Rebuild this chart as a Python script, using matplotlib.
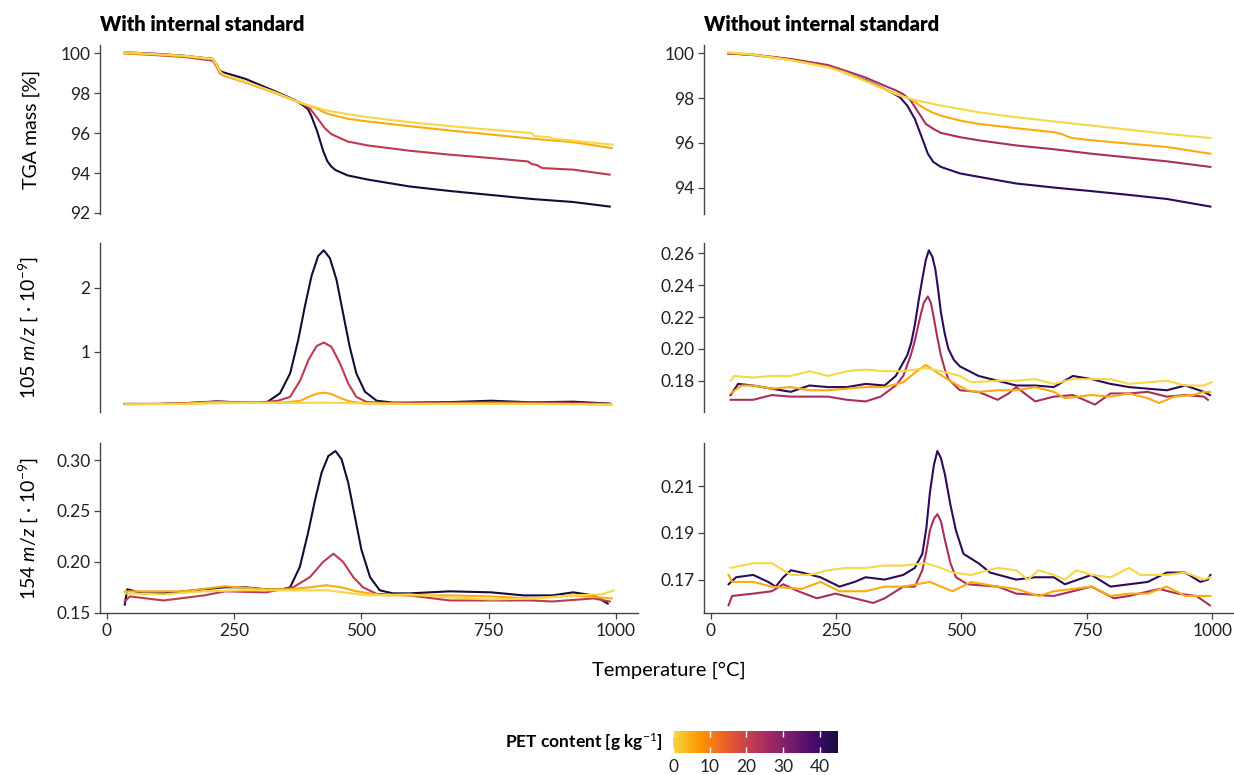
import matplotlib
matplotlib.use("Agg")
import numpy as np
import matplotlib.pyplot as plt
from matplotlib.colors import ListedColormap, Normalize
from matplotlib.colorbar import ColorbarBase
from matplotlib.ticker import FixedLocator, FormatStrFormatter

plt.rcParams['font.family'] = ['Lato', 'DejaVu Sans']
plt.rcParams['mathtext.fontset'] = 'custom'
plt.rcParams['mathtext.rm'] = 'Lato'
plt.rcParams['mathtext.it'] = 'Lato:italic'
plt.rcParams['mathtext.bf'] = 'Lato:bold'

# PET content of the four samples (g/kg), per column
pet_with = [0, 5, 22, 45]
pet_without = [0, 5, 25, 42]

# ---- TGA mass [%], with internal standard ----
tga_with_0 = [(35, 100.05), (100, 99.95), (150, 99.88), (208, 99.72), (215, 99.45), (222, 99.1), (228, 98.95),
              (272, 98.58), (330, 98.05), (385, 97.47), (433, 97.13), (473, 96.95), (513, 96.8), (594, 96.55),
              (674, 96.35), (755, 96.17), (835, 96.0), (840, 95.85), (870, 95.8), (876, 95.72), (916, 95.62),
              (994, 95.42)]
tga_with_1 = [(35, 100.0), (100, 99.93), (150, 99.85), (208, 99.7), (215, 99.4), (222, 99.05), (228, 98.92),
              (272, 98.55), (330, 98.02), (385, 97.47), (410, 97.25), (433, 96.97), (473, 96.72), (513, 96.58),
              (594, 96.35), (674, 96.13), (755, 95.93), (835, 95.72), (916, 95.55), (992, 95.25)]
tga_with_2 = [(35, 100.0), (100, 99.9), (150, 99.82), (208, 99.63), (215, 99.35), (222, 99.0), (228, 98.9),
              (272, 98.55), (330, 98.03), (385, 97.47), (400, 97.2), (415, 96.7), (428, 96.25), (441, 95.95),
              (473, 95.58), (513, 95.38), (594, 95.12), (674, 94.92), (755, 94.75), (827, 94.58), (835, 94.45),
              (845, 94.4), (855, 94.25), (916, 94.17), (988, 93.92)]
tga_with_3 = [(35, 100.05), (100, 99.97), (150, 99.88), (208, 99.72), (215, 99.45), (222, 99.12), (228, 99.05),
              (272, 98.72), (330, 98.1), (370, 97.65), (385, 97.4), (395, 97.2), (401, 96.9), (407, 96.5),
              (413, 96.1), (419, 95.6), (425, 95.1), (433, 94.6), (440, 94.35), (449, 94.15), (473, 93.88),
              (513, 93.67), (594, 93.33), (674, 93.1), (755, 92.9), (835, 92.7), (916, 92.55), (988, 92.32)]

# ---- TGA mass [%], without internal standard ----
tga_wo_0 = [(35, 100.05), (85, 99.95), (160, 99.7), (234, 99.38), (272, 99.1), (309, 98.75), (340, 98.45),
            (369, 98.18), (399, 97.96), (459, 97.67), (534, 97.37), (609, 97.15), (684, 96.96), (759, 96.78),
            (834, 96.59), (909, 96.41), (996, 96.22)]
tga_wo_1 = [(35, 100.02), (85, 99.93), (160, 99.7), (234, 99.4), (272, 99.12), (309, 98.78), (340, 98.47),
            (369, 98.2), (399, 97.96), (422, 97.6), (440, 97.38), (459, 97.22), (497, 97.0), (534, 96.85),
            (609, 96.66), (684, 96.48), (700, 96.4), (710, 96.3), (721, 96.22), (759, 96.12), (834, 95.97),
            (909, 95.82), (996, 95.52)]
tga_wo_2 = [(35, 100.0), (85, 99.95), (160, 99.75), (234, 99.48), (272, 99.2), (309, 98.92), (340, 98.62),
            (369, 98.35), (384, 98.18), (399, 97.89), (414, 97.37), (429, 96.85), (444, 96.63), (459, 96.45),
            (497, 96.26), (534, 96.12), (609, 95.89), (684, 95.72), (759, 95.52), (834, 95.35), (909, 95.18),
            (996, 94.93)]
tga_wo_3 = [(35, 100.0), (85, 99.93), (160, 99.73), (234, 99.45), (272, 99.1), (309, 98.8), (340, 98.48),
            (365, 98.2), (377, 98.05), (392, 97.67), (407, 97.08), (422, 96.19), (433, 95.52), (444, 95.15),
            (459, 94.93), (497, 94.64), (534, 94.49), (609, 94.19), (684, 94.01), (759, 93.85), (834, 93.68),
            (909, 93.5), (996, 93.16)]

# ---- 105 m/z, with internal standard ----
mz105_with_0 = [(35, 0.18), (100, 0.185), (151, 0.19), (216, 0.2), (272, 0.205), (350, 0.205), (427, 0.21),
                (500, 0.2), (594, 0.19), (755, 0.19), (900, 0.185), (992, 0.18)]
mz105_with_1 = [(35, 0.185), (100, 0.19), (151, 0.195), (216, 0.22), (272, 0.21), (320, 0.21), (350, 0.215),
                (380, 0.24), (399, 0.31), (413, 0.35), (426, 0.365), (439, 0.35), (451, 0.31), (464, 0.265),
                (477, 0.23), (503, 0.2), (594, 0.19), (755, 0.2), (900, 0.19), (992, 0.18)]
mz105_with_2 = [(35, 0.19), (100, 0.19), (151, 0.2), (216, 0.225), (272, 0.21), (304, 0.215), (336, 0.24),
                (360, 0.3), (380, 0.56), (396, 0.875), (412, 1.09), (426, 1.145), (441, 1.08), (458, 0.82),
                (474, 0.51), (490, 0.3), (510, 0.22), (553, 0.205), (650, 0.21), (755, 0.215), (900, 0.21),
                (988, 0.19)]
mz105_with_3 = [(35, 0.19), (100, 0.19), (151, 0.2), (216, 0.23), (272, 0.21), (300, 0.205), (314, 0.215),
                (340, 0.355), (360, 0.667), (376, 1.19), (389, 1.71), (402, 2.18), (415, 2.49), (426, 2.58),
                (438, 2.46), (451, 2.125), (464, 1.6), (477, 1.08), (490, 0.667), (507, 0.38), (530, 0.24),
                (562, 0.21), (594, 0.21), (680, 0.22), (755, 0.24), (835, 0.215), (916, 0.225), (988, 0.195)]

# ---- 105 m/z, without internal standard ----
mz105_wo_0 = [(40, 0.18), (47, 0.183), (85, 0.182), (122, 0.183), (160, 0.183), (197, 0.186), (234, 0.183),
              (272, 0.186), (309, 0.187), (347, 0.186), (384, 0.186), (429, 0.188), (459, 0.186), (497, 0.183),
              (519, 0.179), (572, 0.18), (609, 0.18), (647, 0.181), (684, 0.178), (722, 0.181), (759, 0.181),
              (797, 0.181), (834, 0.178), (871, 0.179), (909, 0.18), (946, 0.177), (983, 0.177), (998, 0.179)]
mz105_wo_1 = [(40, 0.172), (62, 0.177), (85, 0.177), (122, 0.175), (160, 0.176), (197, 0.174), (234, 0.174),
              (272, 0.175), (309, 0.176), (347, 0.176), (384, 0.179), (407, 0.185), (429, 0.19), (452, 0.185),
              (482, 0.179), (512, 0.174), (534, 0.173), (572, 0.174), (609, 0.174), (647, 0.176), (684, 0.173),
              (706, 0.169), (759, 0.171), (797, 0.17), (834, 0.172), (871, 0.169), (894, 0.166), (924, 0.17),
              (961, 0.171), (983, 0.173), (995, 0.173)]
mz105_wo_2 = [(40, 0.168), (85, 0.168), (122, 0.171), (160, 0.17), (197, 0.17), (234, 0.17), (272, 0.168),
              (309, 0.167), (339, 0.17), (369, 0.177), (384, 0.183), (399, 0.196), (407, 0.205), (414, 0.215),
              (420, 0.223), (425, 0.229), (433, 0.233), (439, 0.229), (444, 0.221), (452, 0.207), (459, 0.196),
              (467, 0.187), (474, 0.181), (497, 0.174), (534, 0.173), (572, 0.168), (594, 0.172), (609, 0.176),
              (647, 0.167), (684, 0.17), (722, 0.171), (766, 0.165), (797, 0.172), (834, 0.172), (871, 0.173),
              (909, 0.17), (946, 0.171), (983, 0.17), (991, 0.168)]
mz105_wo_3 = [(40, 0.171), (55, 0.178), (85, 0.177), (122, 0.175), (160, 0.173), (197, 0.177), (234, 0.176),
              (272, 0.176), (309, 0.178), (347, 0.177), (369, 0.183), (392, 0.196), (400, 0.204), (407, 0.215),
              (415, 0.231), (422, 0.244), (429, 0.256), (435, 0.262), (442, 0.258), (448, 0.25), (454, 0.236),
              (459, 0.223), (467, 0.209), (474, 0.2), (485, 0.193), (497, 0.189), (534, 0.183), (572, 0.18),
              (609, 0.177), (647, 0.177), (684, 0.176), (722, 0.183), (759, 0.181), (797, 0.178), (834, 0.176),
              (871, 0.175), (909, 0.174), (946, 0.177), (983, 0.173), (995, 0.171)]

# ---- 154 m/z, with internal standard ----
mz154_with_0 = [(35, 0.169), (111, 0.168), (191, 0.171), (272, 0.172), (433, 0.172), (480, 0.169), (513, 0.167),
                (594, 0.168), (674, 0.165), (755, 0.163), (835, 0.164), (916, 0.167), (972, 0.168), (996, 0.172)]
mz154_with_1 = [(35, 0.171), (71, 0.171), (151, 0.171), (232, 0.176), (312, 0.173), (360, 0.173), (400, 0.175),
                (431, 0.177), (460, 0.175), (490, 0.171), (517, 0.169), (544, 0.167), (594, 0.167), (674, 0.167),
                (755, 0.166), (835, 0.164), (916, 0.167), (992, 0.164)]
mz154_with_2 = [(35, 0.161), (45, 0.166), (111, 0.162), (191, 0.167), (232, 0.171), (312, 0.17), (366, 0.175),
                (399, 0.185), (425, 0.2), (445, 0.208), (464, 0.2), (484, 0.185), (503, 0.175), (530, 0.1685),
                (594, 0.167), (674, 0.162), (755, 0.162), (835, 0.162), (875, 0.161), (956, 0.164), (988, 0.161)]
mz154_with_3 = [(35, 0.158), (40, 0.173), (71, 0.169), (111, 0.169), (151, 0.171), (191, 0.173), (232, 0.175),
                (272, 0.175), (312, 0.173), (345, 0.173), (360, 0.175), (379, 0.195), (395, 0.228), (409, 0.261),
                (422, 0.288), (435, 0.304), (449, 0.309), (461, 0.301), (474, 0.278), (487, 0.245), (500, 0.212),
                (517, 0.185), (536, 0.172), (562, 0.169), (594, 0.169), (674, 0.171), (755, 0.17), (819, 0.167),
                (875, 0.167), (916, 0.17), (956, 0.167), (984, 0.159)]

# ---- 154 m/z, without internal standard ----
mz154_wo_0 = [(40, 0.175), (62, 0.176), (85, 0.177), (122, 0.177), (160, 0.172), (197, 0.172), (234, 0.174),
              (272, 0.175), (309, 0.175), (347, 0.176), (384, 0.176), (429, 0.177), (459, 0.175), (482, 0.173),
              (519, 0.172), (572, 0.175), (609, 0.174), (632, 0.17), (654, 0.174), (684, 0.172), (706, 0.17),
              (729, 0.174), (759, 0.172), (797, 0.171), (834, 0.175), (856, 0.172), (909, 0.172), (946, 0.173),
              (983, 0.17), (996, 0.171)]
mz154_wo_1 = [(36, 0.172), (43, 0.169), (85, 0.169), (122, 0.167), (182, 0.166), (219, 0.169), (257, 0.165),
              (309, 0.165), (347, 0.167), (384, 0.167), (437, 0.169), (482, 0.165), (519, 0.169), (572, 0.167),
              (609, 0.166), (654, 0.163), (684, 0.165), (759, 0.167), (797, 0.163), (834, 0.164), (871, 0.164),
              (909, 0.167), (946, 0.163), (983, 0.163), (996, 0.163)]
mz154_wo_2 = [(36, 0.159), (43, 0.163), (85, 0.164), (122, 0.165), (145, 0.168), (175, 0.165), (212, 0.162),
              (249, 0.164), (287, 0.162), (324, 0.16), (347, 0.162), (384, 0.167), (407, 0.167), (422, 0.174),
              (430, 0.182), (437, 0.191), (445, 0.196), (452, 0.198), (459, 0.195), (467, 0.187), (478, 0.177),
              (489, 0.171), (512, 0.168), (572, 0.167), (609, 0.164), (684, 0.163), (759, 0.167), (804, 0.162),
              (834, 0.163), (894, 0.166), (931, 0.164), (968, 0.163), (995, 0.159)]
mz154_wo_3 = [(36, 0.168), (51, 0.171), (85, 0.172), (115, 0.169), (130, 0.167), (145, 0.171), (160, 0.174),
              (182, 0.173), (219, 0.171), (257, 0.167), (287, 0.169), (309, 0.171), (347, 0.17), (384, 0.172),
              (407, 0.175), (422, 0.181), (430, 0.192), (437, 0.207), (445, 0.219), (452, 0.225), (459, 0.222),
              (467, 0.215), (478, 0.202), (489, 0.191), (504, 0.181), (534, 0.177), (557, 0.173), (609, 0.17),
              (647, 0.171), (684, 0.171), (706, 0.168), (759, 0.172), (797, 0.167), (834, 0.168), (871, 0.169),
              (909, 0.173), (946, 0.173), (976, 0.169), (991, 0.17), (996, 0.172)]

col_titles = ["With internal standard", "Without internal standard"]
row_labels = ["TGA mass [%]", "105 $m/z$ [ · 10$^{-9}$]", "154 $m/z$ [ · 10$^{-9}$]"]
xticks = [0, 250, 500, 750, 1000]

cmap = ListedColormap(plt.cm.inferno(np.linspace(0.9, 0.1, 256)))
norm = Normalize(vmin=0, vmax=45)

panels = [
    (0, 0, [tga_with_0, tga_with_1, tga_with_2, tga_with_3], pet_with, [92, 94, 96, 98, 100], '%d'),
    (0, 1, [tga_wo_0, tga_wo_1, tga_wo_2, tga_wo_3], pet_without, [94, 96, 98, 100], '%d'),
    (1, 0, [mz105_with_0, mz105_with_1, mz105_with_2, mz105_with_3], pet_with, [1, 2], '%d'),
    (1, 1, [mz105_wo_0, mz105_wo_1, mz105_wo_2, mz105_wo_3], pet_without, [0.18, 0.20, 0.22, 0.24, 0.26], '%.2f'),
    (2, 0, [mz154_with_0, mz154_with_1, mz154_with_2, mz154_with_3], pet_with, [0.15, 0.20, 0.25, 0.30], '%.2f'),
    (2, 1, [mz154_wo_0, mz154_wo_1, mz154_wo_2, mz154_wo_3], pet_without, [0.17, 0.19, 0.21], '%.2f'),
]

fig = plt.figure(figsize=(12.34, 7.75), dpi=100)
col_left = [0.0813, 0.5705]
col_width = [0.4355, 0.4295]
row_bottom = [0.7235, 0.468, 0.209]
row_height = 0.219

for row, col, curves, pets, yticks, fmt in panels:
    ax = fig.add_axes([col_left[col], row_bottom[row], col_width[col], row_height])
    # darkest first so the low-PET lines sit on top
    for curve, pet in reversed(list(zip(curves, pets))):
        t, v = zip(*curve)
        ax.plot(t, v, color=cmap(norm(pet)), lw=1.5, solid_joinstyle='round')
    ax.margins(x=0.05, y=0.05)
    ax.set_xlim(-13, 1043)
    lo, hi = ax.get_ylim()
    if yticks[0] < lo:
        ax.set_ylim(yticks[0] - 0.002 * (hi - lo), hi)
    ax.yaxis.set_major_locator(FixedLocator(yticks))
    ax.yaxis.set_major_formatter(FormatStrFormatter(fmt))
    for s in ['top', 'right']:
        ax.spines[s].set_visible(False)
    ax.spines['left'].set_color('#444444')
    ax.spines['left'].set_linewidth(1.0)
    ax.tick_params(axis='y', length=4, width=0.9, color='#444444', labelsize=12.5, labelcolor='#222222', pad=3)
    if row == 2:
        ax.spines['bottom'].set_color('#444444')
        ax.spines['bottom'].set_linewidth(1.0)
        ax.set_xticks(xticks)
        ax.tick_params(axis='x', length=4, width=0.9, color='#444444', labelsize=12.5, labelcolor='#222222', pad=3)
    else:
        ax.spines['bottom'].set_visible(False)
        ax.set_xticks([])
    if row == 0:
        ax.set_title(col_titles[col], loc='left', fontweight='heavy', fontsize=14.5, pad=10)
    if col == 0:
        ax.set_ylabel(row_labels[row], fontsize=14)
        ax.yaxis.set_label_coords(-0.112, 0.5)

fig.text(0.542, 0.135, "Temperature [°C]", ha='center', va='center', fontsize=14.5)

cax = fig.add_axes([0.5454, 0.0284, 0.1337, 0.0284])
cb = ColorbarBase(cax, cmap=cmap, norm=norm, orientation='horizontal')
cb.outline.set_visible(False)
cb.set_ticks([0, 10, 20, 30, 40])
cax.tick_params(axis='x', direction='in', length=4, width=1, color='white', top=True,
                labelsize=12.5, labelcolor='#222222', pad=4)
fig.text(0.537, 0.0426, "PET content [g kg$^{-1}$]", ha='right', va='center', fontsize=12.5, fontweight='bold')

fig.savefig("out.png", dpi=100)
